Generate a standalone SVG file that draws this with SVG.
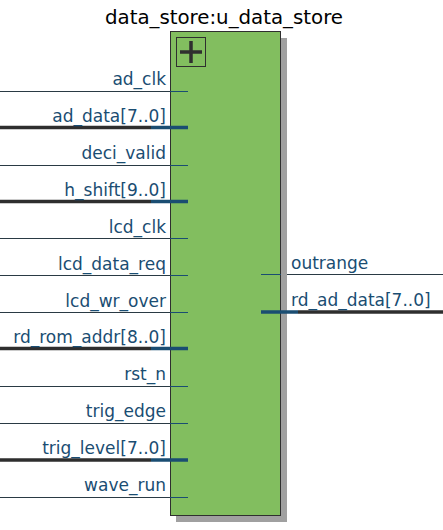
<svg xmlns="http://www.w3.org/2000/svg" width="443" height="530" viewBox="0 0 443 530">
<style>
.lbl{font-family:"DejaVu Sans","Liberation Sans",sans-serif;font-size:17px;fill:#1a4d72}
.in{text-anchor:end}
.w{stroke:#2a3a44;stroke-width:1;fill:none}
.wb{stroke:#1a4d72;stroke-width:1;fill:none}
.b{stroke:#2e2e2e;stroke-width:3.5;fill:none}
.bb{stroke:#1a4d72;stroke-width:3.5;fill:none}
</style>
<rect width="443" height="530" fill="#ffffff"/>
<text x="224" y="24" text-anchor="middle" font-family="DejaVu Sans,Liberation Sans,sans-serif" font-size="19.8" fill="#000">data_store:u_data_store</text>
<g id="u_data_store">
<rect x="176" y="38" width="111" height="484" fill="#a0a0a0"/>
<rect x="170.5" y="31.5" width="110" height="484" fill="#82be5f" stroke="#2f2f2f" stroke-width="1"/>
<rect x="176.5" y="37.5" width="29" height="29" fill="none" stroke="#2f2f2f" stroke-width="1"/>
<path d="M191 41v22M180 52h22" stroke="#2f2f2f" stroke-width="3.5"/>
</g>
<g id="connectors">
<path class="w" d="M0 91.5H170"/><path class="wb" d="M170 91.5H188"/>
<path class="b" d="M0 127.5H151"/><path class="bb" d="M151 127.5H188"/>
<path class="w" d="M0 165.5H170"/><path class="wb" d="M170 165.5H188"/>
<path class="b" d="M0 201.5H151"/><path class="bb" d="M151 201.5H188"/>
<path class="w" d="M0 238.5H170"/><path class="wb" d="M170 238.5H188"/>
<path class="w" d="M0 275.5H170"/><path class="wb" d="M170 275.5H188"/>
<path class="w" d="M0 312.5H170"/><path class="wb" d="M170 312.5H188"/>
<path class="b" d="M0 348.5H151"/><path class="bb" d="M151 348.5H188"/>
<path class="w" d="M0 386.5H170"/><path class="wb" d="M170 386.5H188"/>
<path class="w" d="M0 423.5H170"/><path class="wb" d="M170 423.5H188"/>
<path class="b" d="M0 460H151"/><path class="bb" d="M151 460H188"/>
<path class="w" d="M0 497.5H170"/><path class="wb" d="M170 497.5H188"/>
<path class="wb" d="M261 274.5H281"/><path class="w" d="M287 274.5H443"/>
<path class="bb" d="M261 312H298"/><path class="b" d="M298 312H443"/>
</g>
<g id="labels">
<text class="lbl in" x="166" y="85">ad_clk</text>
<text class="lbl in" x="166" y="122">ad_data[7..0]</text>
<text class="lbl in" x="166" y="159">deci_valid</text>
<text class="lbl in" x="166" y="196">h_shift[9..0]</text>
<text class="lbl in" x="166" y="233">lcd_clk</text>
<text class="lbl in" x="166" y="270">lcd_data_req</text>
<text class="lbl in" x="166" y="307">lcd_wr_over</text>
<text class="lbl in" x="166" y="343">rd_rom_addr[8..0]</text>
<text class="lbl in" x="166" y="380">rst_n</text>
<text class="lbl in" x="166" y="417">trig_edge</text>
<text class="lbl in" x="166" y="454">trig_level[7..0]</text>
<text class="lbl in" x="166" y="491">wave_run</text>
<text class="lbl" x="291" y="269">outrange</text>
<text class="lbl" x="291" y="306">rd_ad_data[7..0]</text>
</g>
</svg>
